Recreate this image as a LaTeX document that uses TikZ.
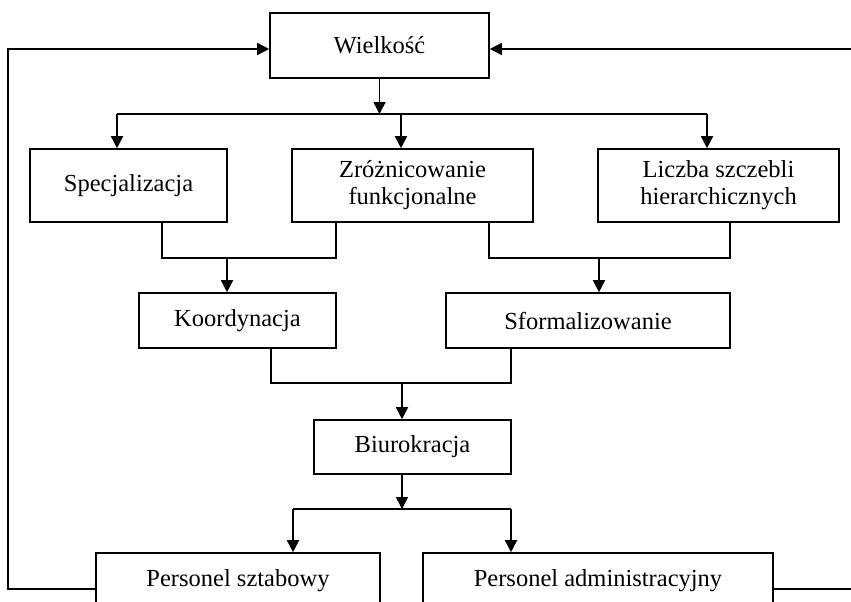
\documentclass[tikz,border=0pt]{standalone}
\usepackage{fontspec}
\setmainfont{Liberation Serif}
\usetikzlibrary{arrows.meta}
\tikzset{
  box/.style={draw, line width=1.6pt, align=center, inner sep=0pt,
              font=\fontsize{24.5}{27}\selectfont},
  arr/.style={-{Triangle[length=12pt,width=12pt]}},
}
\begin{document}
\begin{tikzpicture}[x=1pt,y=-1pt,line width=1.6pt]
\useasboundingbox (0,0) rectangle (851,602);
\clip (0,0) rectangle (851,602);

% boxes
\node[box, minimum width=219pt, minimum height=65pt] (W)  at (379.5,45.5) {Wielkość};
\node[box, minimum width=197pt, minimum height=73pt] (S)  at (128.5,185.5) {Specjalizacja};
\node[box, minimum width=241pt, minimum height=73pt] (Z)  at (412.5,185.5) {Zróżnicowanie\\funkcjonalne};
\node[box, minimum width=241pt, minimum height=73pt] (L)  at (718.5,185.5) {Liczba szczebli\\hierarchicznych};
\node[box, minimum width=197pt, minimum height=55pt] (K)  at (237.5,320.5) {Koordynacja};
\node[box, minimum width=284pt, minimum height=55pt] (F)  at (588,320.5) {Sformalizowanie};
\node[box, minimum width=197pt, minimum height=54pt] (B)  at (412.5,447) {Biurokracja};
\node[box, minimum width=284pt, minimum height=55pt] (PS) at (238,580.5) {Personel sztabowy};
\node[box, minimum width=350pt, minimum height=55pt] (PA) at (598,580.5) {Personel administracyjny};

% distribution from Wielkosc
\coordinate (t1) at (117,114);
\coordinate (t2) at (401,114);
\coordinate (t3) at (707,114);
\draw[arr] (W.south) -- (W.south |- t2);
\draw (t1) -- (t3);
\draw[arr] (t1) -- (S.north -| t1);
\draw[arr] (t2) -- (Z.north -| t2);
\draw[arr] (t3) -- (L.north -| t3);

% merge into Koordynacja
\coordinate (k1) at (162,258);
\coordinate (k2) at (336,258);
\coordinate (k3) at (227,258);
\draw (S.south -| k1) |- (k2) -- (Z.south -| k2);
\draw[arr] (k3) -- (K.north -| k3);

% merge into Sformalizowanie
\coordinate (f1) at (489,258);
\coordinate (f2) at (730,258);
\coordinate (f3) at (599,258);
\draw (Z.south -| f1) |- (f2) -- (L.south -| f2);
\draw[arr] (f3) -- (F.north -| f3);

% merge into Biurokracja
\coordinate (b1) at (271,383);
\coordinate (b2) at (511,383);
\coordinate (b3) at (402,383);
\draw (K.south -| b1) |- (b2) -- (F.south -| b2);
\draw[arr] (b3) -- (B.north -| b3);

% split into personnel
\coordinate (p0) at (402,509);
\coordinate (p1) at (293,509);
\coordinate (p2) at (511,509);
\draw[arr] (B.south -| p0) -- (p0);
\draw (p1) -- (p2);
\draw[arr] (p1) -- (PS.north -| p1);
\draw[arr] (p2) -- (PA.north -| p2);

% feedback loops back to Wielkosc
\coordinate (top) at (0,49);
\coordinate (fbL) at (8,589);
\coordinate (fbR) at (880,589);
\draw[arr] (PS.west |- fbL) -- (fbL) |- (W.west |- top);
\draw[arr] (PA.east |- fbR) -- (fbR) |- (W.east |- top);
\end{tikzpicture}
\end{document}
